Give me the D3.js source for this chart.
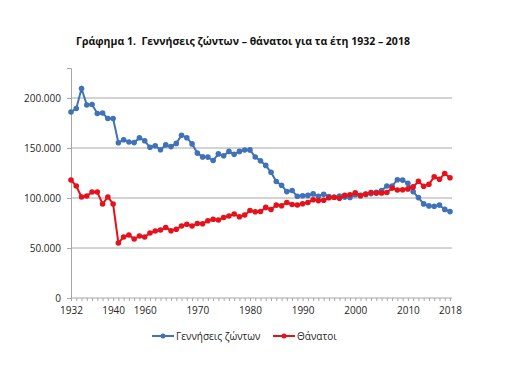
<!DOCTYPE html>
<html>
<head>
<meta charset="utf-8">
<script src="https://cdn.jsdelivr.net/npm/d3@7"></script>
<style>
  body { margin: 0; background: #fff; }
  text { font-family: "Open Sans", "Noto Sans", sans-serif; }
</style>
</head>
<body>
<div id="chart"></div>
<script>
// years shown (war years 1941-1954 are missing from the series)
var years = [1932, 1933, 1934, 1935, 1936, 1937, 1938, 1939, 1940,
  1955, 1956, 1957, 1958, 1959, 1960, 1961, 1962, 1963, 1964, 1965, 1966, 1967, 1968, 1969,
  1970, 1971, 1972, 1973, 1974, 1975, 1976, 1977, 1978, 1979, 1980, 1981, 1982, 1983, 1984,
  1985, 1986, 1987, 1988, 1989, 1990, 1991, 1992, 1993, 1994, 1995, 1996, 1997, 1998, 1999,
  2000, 2001, 2002, 2003, 2004, 2005, 2006, 2007, 2008, 2009, 2010, 2011, 2012, 2013, 2014,
  2015, 2016, 2017, 2018];

// live births (thousands)
var births = [186, 189.5, 209.5, 193, 193.5, 184.5, 185, 179.5, 179.5,
  155.3, 158.2, 156, 155.4, 160.2, 157.2, 150.7, 152.3, 148.2, 153.1, 151.4, 154.6, 162.8, 160.3, 154.1,
  144.9, 141.1, 140.9, 137.5, 144.1, 142.3, 146.6, 143.7, 146.6, 148, 148.1, 141, 137.3, 132.6, 125.7,
  116.5, 112.8, 106.4, 107.5, 101.7, 102.2, 102.6, 104.1, 101.8, 103.8, 101.5, 100.7, 102, 100.9, 100.6,
  103.3, 102.3, 103.6, 104.4, 105.7, 107.5, 112, 111.9, 118.3, 117.9, 114.8, 106.4, 100.4, 94.1, 92.1,
  91.8, 92.9, 88.6, 86.4];

// deaths (thousands)
var deaths = [118, 112, 101, 102, 106, 106, 94, 101, 94,
  55, 61, 63, 59, 62, 61, 65, 67, 68, 70.5, 67.3, 68.7, 72, 73.7, 72,
  74.5, 74.3, 77.3, 78.7, 78, 80.5, 82, 84, 81.3, 83, 87.5, 86.3, 86.5, 90.6, 88.5,
  92.9, 92.3, 95.5, 93.5, 93, 94.2, 95.5, 98.2, 97.4, 97.8, 100.2, 100.7, 99.7, 102.7, 103.3,
  105.2, 102.6, 103.9, 105.5, 104.9, 105.1, 105.5, 109.9, 108, 108.3, 109.1, 111.1, 116.7, 111.8, 113.7,
  121.2, 118.8, 124.5, 120.3];

var yTicks = [0, 50000, 100000, 150000, 200000];
var xLabels = [1932, 1940, 1960, 1970, 1980, 1990, 2000, 2010, 2018];

var seriesNames = ["Γεννήσεις ζώντων", "Θάνατοι"];
var seriesColors = ["#3f72b8", "#e5121b"];

var width = 512, height = 366;
var margin = { top: 68, right: 62, bottom: 68, left: 71 };

var svg = d3.select("#chart").append("svg")
    .attr("width", width)
    .attr("height", height);

var x = d3.scalePoint()
    .domain(years)
    .range([margin.left, width - margin.right]);

var y = d3.scaleLinear()
    .domain([0, 230000])
    .range([height - margin.bottom, margin.top]);

var grLocale = d3.formatLocale({ decimal: ",", thousands: ".", grouping: [3], currency: ["", "€"] });
var fmt = grLocale.format(",");

// title (keep the double space after "1.")
svg.append("text")
    .attr("x", 243)
    .attr("y", 45)
    .attr("text-anchor", "middle")
    .style("font-weight", "bold")
    .style("font-size", "10.5px")
    .style("white-space", "pre")
    .attr("fill", "#111")
    .text("Γράφημα 1.  Γεννήσεις ζώντων – θάνατοι για τα έτη 1932 – 2018");

// gridlines
svg.append("g").selectAll("line")
    .data(yTicks.filter(function (d) { return d > 0; }))
    .enter().append("line")
    .attr("x1", margin.left)
    .attr("x2", 452)
    .attr("y1", function (d) { return y(d); })
    .attr("y2", function (d) { return y(d); })
    .attr("stroke", "#a6a6a6")
    .attr("stroke-width", 1);

// y axis
var yAxis = d3.axisLeft(y).tickValues(yTicks).tickFormat(fmt).tickSize(4).tickPadding(6);
var gy = svg.append("g")
    .attr("transform", "translate(" + margin.left + ",0)")
    .call(yAxis);
gy.select(".domain").attr("stroke", "#a6a6a6");
gy.selectAll(".tick line").attr("stroke", "#a6a6a6");
gy.selectAll(".tick text").style("font-size", "10px").attr("fill", "#262626");

// x axis: a tick for every category, labels only on some
var xAxis = d3.axisBottom(x).tickSizeInner(3).tickSizeOuter(0).tickPadding(6)
    .tickFormat(function (d) { return xLabels.indexOf(d) >= 0 ? d : ""; });
var gx = svg.append("g")
    .attr("transform", "translate(0," + (height - margin.bottom) + ")")
    .call(xAxis);
gx.select(".domain").attr("stroke", "#a6a6a6").attr("d", "M" + margin.left + ",0H452");
gx.selectAll(".tick line").attr("stroke", "#a6a6a6");
gx.selectAll(".tick text").style("font-size", "10px").attr("fill", "#262626");

// series
var allSeries = [births, deaths];
var line = d3.line()
    .x(function (d, i) { return x(years[i]); })
    .y(function (d) { return y(d * 1000); });

allSeries.forEach(function (vals, k) {
    var g = svg.append("g");
    g.append("path")
        .datum(vals)
        .attr("fill", "none")
        .attr("stroke", seriesColors[k])
        .attr("stroke-width", 2)
        .attr("d", line);
    g.selectAll("circle")
        .data(vals)
        .enter().append("circle")
        .attr("cx", function (d, i) { return x(years[i]); })
        .attr("cy", function (d) { return y(d * 1000); })
        .attr("r", 2.8)
        .attr("fill", seriesColors[k]);
});

// legend
var legendX = [152, 273];
var legend = svg.append("g").selectAll("g")
    .data(seriesNames)
    .enter().append("g")
    .attr("transform", function (d, i) { return "translate(" + legendX[i] + ",336)"; });
legend.append("line")
    .attr("x1", 0).attr("x2", 22)
    .attr("stroke", function (d, i) { return seriesColors[i]; })
    .attr("stroke-width", 2);
legend.append("circle")
    .attr("cx", 11).attr("r", 2.5)
    .attr("fill", function (d, i) { return seriesColors[i]; });
legend.append("text")
    .attr("x", 24)
    .attr("dy", "0.35em")
    .style("font-size", "10px")
    .attr("fill", "#262626")
    .text(function (d) { return d; });
</script>
</body>
</html>
